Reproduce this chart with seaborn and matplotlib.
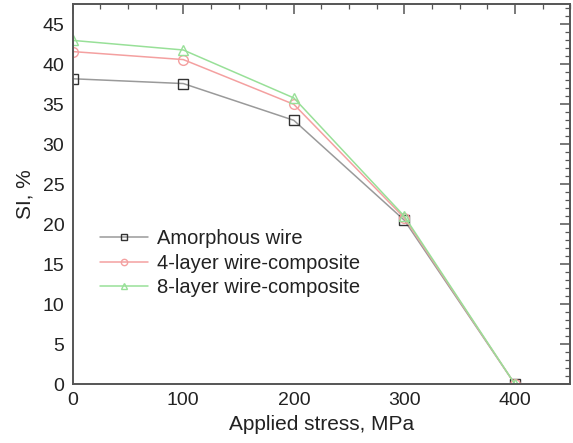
import matplotlib
matplotlib.use("Agg")
import matplotlib.pyplot as plt
import seaborn as sns
import pandas as pd
from matplotlib.ticker import MultipleLocator

stress = [0, 100, 200, 300, 400]
amorphous = [38.2, 37.6, 33.0, 20.5, 0.0]
layer4 = [41.6, 40.6, 35.0, 20.8, 0.0]
layer8 = [43.0, 41.8, 35.8, 21.0, 0.0]
labels = ["Amorphous wire", "4-layer wire-composite", "8-layer wire-composite"]
colors = ["#9a9a9a", "#f4a0a0", "#98e098"]
edge = ["#333333", "#f4a0a0", "#98e098"]
markers = ["s", "o", "^"]

df = pd.DataFrame({"stress": stress * 3,
                   "si": amorphous + layer4 + layer8,
                   "series": [labels[0]] * 5 + [labels[1]] * 5 + [labels[2]] * 5})

sns.set_style("white")
plt.rcParams["font.family"] = ["Liberation Sans", "DejaVu Sans"]

fig, ax = plt.subplots(figsize=(5.73, 4.43), dpi=100)
for lab, c, e, m in zip(labels, colors, edge, markers):
    sub = df[df["series"] == lab]
    sns.lineplot(x="stress", y="si", data=sub, ax=ax, color=c, lw=1.1,
                 marker=m, markersize=7, markerfacecolor="none",
                 markeredgecolor=e, markeredgewidth=1.0, label=lab)

ax.set_xlim(0, 450)
ax.set_ylim(0, 47.5)
ax.xaxis.set_major_locator(MultipleLocator(100))
ax.xaxis.set_minor_locator(MultipleLocator(25))
ax.yaxis.set_major_locator(MultipleLocator(5))
ax.yaxis.set_minor_locator(MultipleLocator(1))
ax.tick_params(which="both", direction="in", top=True, right=True,
               labelsize=14, colors="#555555", labelcolor="#222222")
ax.tick_params(which="major", length=7, width=1.1, pad=6)
ax.tick_params(which="minor", length=3.5, width=0.9)
for s in ax.spines.values():
    s.set_color("#555555")
    s.set_linewidth(1.4)
ax.set_xlabel("Applied stress, MPa", fontsize=15, color="#222222", labelpad=4)
ax.set_ylabel("SI, %", fontsize=15, color="#222222", labelpad=6)

leg = ax.legend(loc="center left", bbox_to_anchor=(0.054, 0.318), frameon=False,
                fontsize=14.5, handlelength=2.4, markerscale=0.65,
                handletextpad=0.45, labelspacing=0.27, borderpad=0,
                borderaxespad=0)
for t in leg.get_texts():
    t.set_color("#222222")

fig.subplots_adjust(left=0.127, right=0.995, top=0.990, bottom=0.133)
fig.savefig("out.png", dpi=100)
